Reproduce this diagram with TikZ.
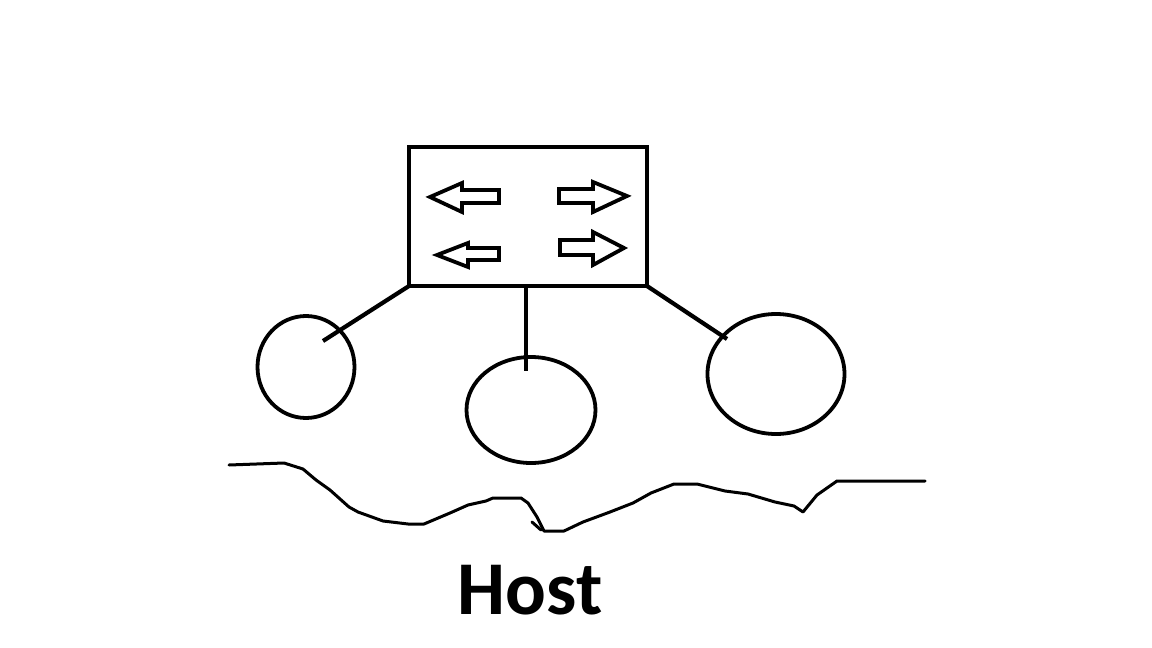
\documentclass[tikz,border=0pt]{standalone}
\usepackage{fontspec}
\setmainfont{Carlito}
\usetikzlibrary{shapes.geometric}
\begin{document}
\begin{tikzpicture}[x=1pt,y=-1pt,
  ink/.style={draw=black,line width=4.2pt},
  hostell/.style={ellipse,draw=black,line width=3.8pt,inner sep=0pt,outer sep=0pt},
  flowarrow/.style={draw=black,line width=3.8pt,line join=miter,fill=white},
  wave/.style={draw=black,line width=3pt,line join=round,line cap=round}]
\useasboundingbox[fill=white] (0,0) rectangle (1152,648);
% switch box
\node[ink,rectangle,minimum width=238pt,minimum height=139pt,inner sep=0pt,outer sep=0pt,anchor=north west] (sw) at (409,147) {};
% arrows inside the switch
\draw[flowarrow] (430,197) -- (462,183) -- (462,190) -- (499,190) -- (499,203) -- (462,203) -- (462,212) -- cycle;
\draw[flowarrow] (627,196) -- (593,182) -- (593,189) -- (559,189) -- (559,203) -- (593,203) -- (593,212) -- cycle;
\draw[flowarrow] (437,255) -- (468,243) -- (468,248) -- (499,248) -- (499,260) -- (468,260) -- (468,267) -- cycle;
\draw[flowarrow] (624,248) -- (593,232) -- (593,240) -- (560,240) -- (560,255) -- (593,255) -- (593,265) -- cycle;
% hosts (ellipses)
\node[hostell,minimum width=97pt,minimum height=102pt] (h1) at (306,367) {};
\node[hostell,minimum width=129pt,minimum height=106pt] (h2) at (531,410) {};
\node[hostell,minimum width=137pt,minimum height=120pt] (h3) at (776,374) {};
% connector ends
\coordinate (e1) at (323,341);
\coordinate (e2) at (526,371);
\coordinate (e3) at (727,339);
\coordinate (s2) at (526,286);
\draw[ink] (sw.south west) -- (e1);
\draw[ink] (s2) -- (e2);
\draw[ink] (sw.south east) -- (e3);
% wavy host line
\draw[wave] (229,465) -- (284,463) -- (303,469) -- (316,480) -- (330,490) -- (349,507) -- (358,512) -- (383,521) -- (408,524) -- (424,524) -- (450,513) -- (468,505) -- (486,501) -- (493,498) -- (521,498) -- (528,503) -- (537,517) -- (544,531) -- (564,531) -- (583,522) -- (610,512) -- (633,503) -- (651,493) -- (674,484) -- (697,484) -- (725,491) -- (748,494) -- (775,502) -- (794,506) -- (803,512) -- (817,495) -- (837,481) -- (925,481);
\draw[wave] (532,522) -- (541,530);
% label
\node[anchor=base,inner sep=0pt,font=\bfseries\fontsize{76}{80}\selectfont] (lbl) at (530,614) {Host};
\end{tikzpicture}
\end{document}
